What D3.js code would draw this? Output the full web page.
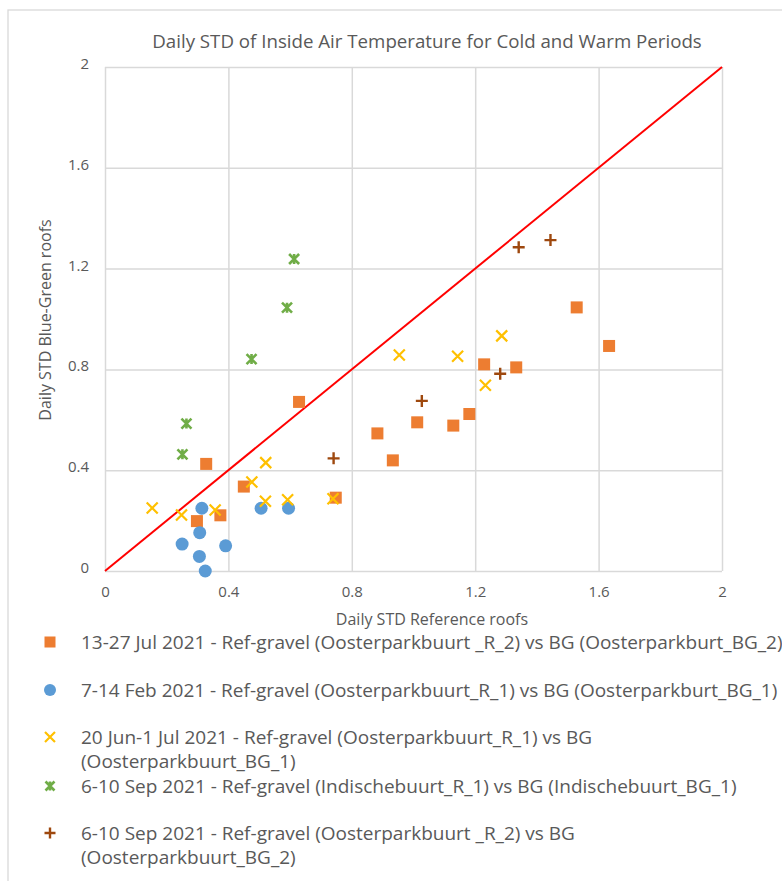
<!DOCTYPE html>
<html><head><meta charset="utf-8">
<script src="https://cdn.jsdelivr.net/npm/d3@7"></script>
<style>body{margin:0;background:#fff;overflow:hidden}svg{display:block}</style>
</head><body><svg id="c" width="782" height="881"></svg>
<script>
const title = "Daily STD of Inside Air Temperature for Cold and Warm Periods";
const xTitle = "Daily STD Reference roofs";
const yTitle = "Daily STD Blue-Green roofs";
const ticks = [0, 0.4, 0.8, 1.2, 1.6, 2];
const tickLabels = ["0", "0.4", "0.8", "1.2", "1.6", "2"];

const julX = [0.629,0.328,0.450,0.374,0.298,0.748,1.529,1.634,1.229,1.333,0.883,1.012,1.129,1.181,0.933];
const julY = [0.671,0.425,0.335,0.221,0.198,0.291,1.046,0.893,0.820,0.808,0.546,0.590,0.577,0.623,0.439];
const febX = [0.314,0.506,0.595,0.307,0.250,0.391,0.306,0.325];
const febY = [0.249,0.249,0.249,0.152,0.107,0.100,0.058,0.000];
const junX = [0.521,0.476,0.153,0.248,0.357,0.520,0.592,0.739,0.954,1.143,1.286,1.233];
const junY = [0.430,0.353,0.250,0.222,0.242,0.277,0.283,0.287,0.857,0.852,0.933,0.737];
const indX = [0.613,0.590,0.475,0.264,0.251];
const indY = [1.238,1.045,0.841,0.585,0.463];
const oosX = [0.741,1.027,1.281,1.341,1.444];
const oosY = [0.447,0.675,0.783,1.285,1.313];
const lineX = [0, 2];
const lineY = [0, 2];

const seriesNames = [
  ["13-27 Jul 2021 - Ref-gravel (Oosterparkbuurt _R_2) vs BG (Oosterparkburt_BG_2)"],
  ["7-14 Feb 2021 - Ref-gravel (Oosterparkbuurt_R_1) vs BG (Oosterparkburt_BG_1)"],
  ["20 Jun-1 Jul 2021 - Ref-gravel (Oosterparkbuurt_R_1) vs BG", "(Oosterparkbuurt_BG_1)"],
  ["6-10 Sep 2021 - Ref-gravel (Indischebuurt_R_1) vs BG (Indischebuurt_BG_1)"],
  ["6-10 Sep 2021 - Ref-gravel (Oosterparkbuurt _R_2) vs BG", "(Oosterparkbuurt_BG_2)"]
];
const colors = ["#ED7D31", "#5B9BD5", "#FFC000", "#70AD47", "#9E480E"];
const shapes = ["square", "circle", "x", "star", "plus"];
const seriesX = [julX, febX, junX, indX, oosX];
const seriesY = [julY, febY, junY, indY, oosY];

const svg = d3.select("#c");
const font = "'Open Sans', sans-serif";
const grey = "#595959";
const grid = "#d9d9d9";

// chart border
svg.append("rect").attr("x", 8).attr("y", 10).attr("width", 900).attr("height", 1000)
  .attr("fill", "none").attr("stroke", grid).attr("stroke-width", 1.3);

const x = d3.scaleLinear().domain([0, 2]).range([105, 722]);
const y = d3.scaleLinear().domain([0, 2]).range([571, 67]);

// gridlines
const gx = svg.append("g").attr("transform", "translate(0,571)")
  .call(d3.axisBottom(x).tickValues(ticks).tickSize(-(571 - 67)).tickFormat((d, i) => tickLabels[i]));
gx.select(".domain").remove();
gx.selectAll("line").attr("stroke", grid).attr("stroke-width", 1.5);
gx.selectAll("text").attr("fill", grey).attr("font-family", font).attr("font-size", 15).attr("dy", "1.5em");

const gy = svg.append("g").attr("transform", "translate(105,0)")
  .call(d3.axisLeft(y).tickValues(ticks).tickSize(-(722 - 105)).tickFormat((d, i) => tickLabels[i]));
gy.select(".domain").remove();
gy.selectAll("line").attr("stroke", grid).attr("stroke-width", 1.5);
gy.selectAll("text").attr("fill", grey).attr("font-family", font).attr("font-size", 15).attr("x", -16).attr("dy", "0.1em");

// titles
svg.append("text").attr("x", 427).attr("y", 48).attr("text-anchor", "middle")
  .attr("fill", grey).attr("font-family", font).attr("font-size", 18.7).text(title);
svg.append("text").attr("x", 432).attr("y", 625).attr("text-anchor", "middle")
  .attr("fill", grey).attr("font-family", font).attr("font-size", 16).text(xTitle);
svg.append("text").attr("transform", "translate(51,320) rotate(-90)").attr("text-anchor", "middle")
  .attr("fill", grey).attr("font-family", font).attr("font-size", 16).text(yTitle);

// red line
svg.append("line").attr("x1", x(lineX[0])).attr("y1", y(lineY[0])).attr("x2", x(lineX[1])).attr("y2", y(lineY[1]))
  .attr("stroke", "#FF0000").attr("stroke-width", 2);

function marker(g, shape, color, cx, cy, s) {
  if (shape === "square") {
    g.append("rect").attr("x", cx - s/2).attr("y", cy - s/2).attr("width", s).attr("height", s).attr("fill", color);
  } else if (shape === "circle") {
    g.append("circle").attr("cx", cx).attr("cy", cy).attr("r", s/2 + 0.5).attr("fill", color);
  } else if (shape === "x") {
    const h = s/2 - 0.5;
    g.append("path").attr("d", `M${cx-h},${cy-h}L${cx+h},${cy+h}M${cx-h},${cy+h}L${cx+h},${cy-h}`)
      .attr("stroke", color).attr("stroke-width", 2.2).attr("fill", "none");
  } else if (shape === "star") {
    const h = s/2 - 1;
    g.append("path").attr("d", `M${cx-h},${cy-h}L${cx+h},${cy+h}M${cx-h},${cy+h}L${cx+h},${cy-h}M${cx},${cy-h}L${cx},${cy+h}`)
      .attr("stroke", color).attr("stroke-width", 2.6).attr("fill", "none");
  } else if (shape === "plus") {
    const h = s/2;
    g.append("path").attr("d", `M${cx-h},${cy}L${cx+h},${cy}M${cx},${cy-h}L${cx},${cy+h}`)
      .attr("stroke", color).attr("stroke-width", 2.4).attr("fill", "none");
  }
}

const pts = svg.append("g");
seriesX.forEach((xs, si) => {
  xs.forEach((v, i) => {
    marker(pts, shapes[si], colors[si], x(v), y(seriesY[si][i]), 12);
  });
});

// legend
const legY = [642, 690, 737, 786, 833];
const leg = svg.append("g");
seriesNames.forEach((lines, i) => {
  marker(leg, shapes[i], colors[i], 50, legY[i], 11);
  lines.forEach((t, j) => {
    leg.append("text").attr("x", 81).attr("y", legY[i] + 7 + j * 23.5).attr("fill", grey)
      .attr("font-family", font).attr("font-size", 19).text(t);
  });
});
</script></body></html>
